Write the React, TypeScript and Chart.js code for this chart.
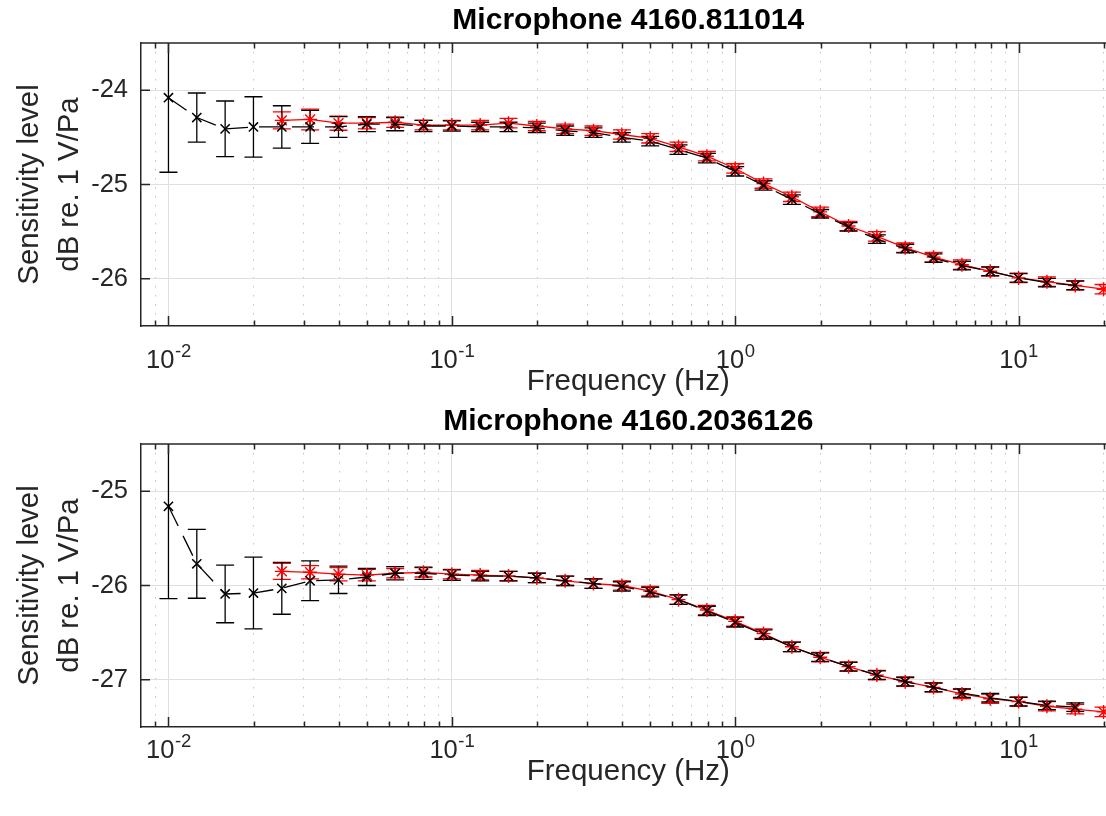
import React, { useEffect, useRef } from 'react';
import { Chart, registerables } from 'chart.js';

Chart.register(...registerables);

// ---------------- data ----------------
const FREQ_BLACK = [
  0.01, 0.01259, 0.01585, 0.01995, 0.02512, 0.03162, 0.03981, 0.05012, 0.0631, 0.07943,
  0.1, 0.1259, 0.1585, 0.1995, 0.2512, 0.3162, 0.3981, 0.5012, 0.631, 0.7943,
  1, 1.259, 1.585, 1.995, 2.512, 3.162, 3.981, 5.012, 6.31, 7.943,
  10, 12.59, 15.85,
];
const FREQ_RED = [
  0.02512, 0.03162, 0.03981, 0.05012, 0.0631, 0.07943,
  0.1, 0.1259, 0.1585, 0.1995, 0.2512, 0.3162, 0.3981, 0.5012, 0.631, 0.7943,
  1, 1.259, 1.585, 1.995, 2.512, 3.162, 3.981, 5.012, 6.31, 7.943,
  10, 12.59, 15.85, 19.95,
];

// Microphone 4160.811014
const TOP_BLACK = [
  -24.08, -24.29, -24.41, -24.39, -24.39, -24.39, -24.39, -24.36, -24.36, -24.38,
  -24.38, -24.39, -24.39, -24.40, -24.43, -24.45, -24.50, -24.54, -24.63, -24.72,
  -24.86, -25.01, -25.16, -25.31, -25.45, -25.58, -25.68, -25.78, -25.86, -25.92,
  -25.99, -26.04, -26.07,
];
const TOP_BLACK_ERR = [
  0.79, 0.26, 0.295, 0.32, 0.225, 0.175, 0.11, 0.08, 0.07, 0.06,
  0.055, 0.05, 0.05, 0.05, 0.05, 0.05, 0.05, 0.05, 0.05, 0.05,
  0.05, 0.05, 0.05, 0.045, 0.045, 0.045, 0.045, 0.045, 0.045, 0.045,
  0.045, 0.045, 0.045,
];
const TOP_RED = [
  -24.32, -24.31, -24.35, -24.35, -24.34, -24.37,
  -24.37, -24.37, -24.35, -24.38, -24.41, -24.43, -24.47, -24.51, -24.60, -24.70,
  -24.83, -24.99, -25.13, -25.29, -25.44, -25.55, -25.67, -25.77, -25.85, -25.92,
  -25.99, -26.03, -26.07, -26.11,
];
const TOP_RED_ERR = [
  0.09, 0.11, 0.075, 0.06, 0.055, 0.05,
  0.05, 0.05, 0.05, 0.05, 0.05, 0.05, 0.05, 0.05, 0.05, 0.05,
  0.05, 0.05, 0.05, 0.05, 0.05, 0.05, 0.05, 0.05, 0.05, 0.05,
  0.05, 0.05, 0.05, 0.05,
];

// Microphone 4160.2036126
const BOT_BLACK = [
  -25.16, -25.77, -26.09, -26.08, -26.03, -25.95, -25.94, -25.91, -25.87, -25.87,
  -25.89, -25.90, -25.90, -25.92, -25.95, -25.98, -26.01, -26.07, -26.15, -26.27,
  -26.39, -26.52, -26.65, -26.76, -26.86, -26.95, -27.02, -27.08, -27.14, -27.19,
  -27.23, -27.27, -27.29,
];
const BOT_BLACK_ERR = [
  0.98, 0.365, 0.305, 0.38, 0.275, 0.21, 0.145, 0.09, 0.07, 0.065,
  0.055, 0.05, 0.05, 0.05, 0.05, 0.05, 0.05, 0.05, 0.05, 0.05,
  0.05, 0.05, 0.05, 0.045, 0.045, 0.045, 0.045, 0.045, 0.045, 0.045,
  0.045, 0.045, 0.045,
];
const BOT_RED = [
  -25.85, -25.86, -25.88, -25.89, -25.87, -25.86,
  -25.88, -25.89, -25.90, -25.92, -25.95, -25.98, -26.00, -26.06, -26.15, -26.26,
  -26.38, -26.51, -26.65, -26.76, -26.86, -26.95, -27.02, -27.08, -27.15, -27.20,
  -27.23, -27.28, -27.31, -27.34,
];
const BOT_RED_ERR = [
  0.085, 0.07, 0.07, 0.06, 0.05, 0.05,
  0.05, 0.05, 0.05, 0.05, 0.05, 0.05, 0.05, 0.05, 0.05, 0.05,
  0.05, 0.05, 0.05, 0.05, 0.05, 0.05, 0.05, 0.05, 0.05, 0.05,
  0.05, 0.05, 0.05, 0.05,
];

const TITLES = ['Microphone 4160.811014', 'Microphone 4160.2036126'];
const X_LABEL = 'Frequency (Hz)';
const Y_LABEL = ['Sensitivity level', 'dB re. 1 V/Pa'];
const X_MIN = 0.008;
const X_MAX = 22;
const X_MAJOR_TICKS = [0.01, 0.1, 1, 10];
const X_TICK_BASE = ['10', '10', '10', '10'];
const X_TICK_EXP = ['-2', '-1', '0', '1'];
const X_MINOR_TICKS = [
  0.009,
  0.02, 0.03, 0.04, 0.05, 0.06, 0.07, 0.08, 0.09,
  0.2, 0.3, 0.4, 0.5, 0.6, 0.7, 0.8, 0.9,
  2, 3, 4, 5, 6, 7, 8, 9, 20,
];
const TOP_Y_TICKS = [-26, -25, -24];
const TOP_Y_RANGE = [-26.5, -23.5];
const BOT_Y_TICKS = [-27, -26, -25];
const BOT_Y_RANGE = [-27.5, -24.5];

// ---------------- styling ----------------
const FONT = '"Liberation Sans", Arial, Helvetica, sans-serif';
const AXIS_COLOR = '#262626';
const CANVAS_W = 1124;
const CANVAS_H = 402;
const PLOT_BOTTOM = 326;

const errorBarPlugin = {
  id: 'errorBars',
  beforeDatasetsDraw(chart: any) {
    const { ctx, chartArea: a, scales } = chart;
    const xs = scales.x;
    const ys = scales.y;
    ctx.save();
    ctx.beginPath();
    ctx.rect(a.left, a.top, a.right - a.left, a.bottom - a.top);
    ctx.clip();
    const sets = chart.data.datasets.slice().reverse();
    for (const ds of sets) {
      const errs = ds.errors as number[];
      if (!errs) continue;
      ctx.strokeStyle = ds.borderColor;
      ctx.lineWidth = 1.3;
      ctx.setLineDash([]);
      ds.data.forEach((p: any, i: number) => {
        const e = errs[i];
        const px = xs.getPixelForValue(p.x);
        const y1 = ys.getPixelForValue(p.y + e);
        const y2 = ys.getPixelForValue(p.y - e);
        ctx.beginPath();
        ctx.moveTo(px, y1);
        ctx.lineTo(px, y2);
        ctx.moveTo(px - 9, y1);
        ctx.lineTo(px + 9, y1);
        ctx.moveTo(px - 9, y2);
        ctx.lineTo(px + 9, y2);
        ctx.stroke();
      });
    }
    ctx.restore();
  },
};

const axesPlugin = {
  id: 'matlabAxes',
  afterDraw(chart: any, _args: any, opts: any) {
    const { ctx, chartArea: a, scales } = chart;
    const xs = scales.x;
    const ys = scales.y;
    const lift = (opts && opts.labelLift) || 0;
    ctx.save();
    ctx.strokeStyle = AXIS_COLOR;
    ctx.lineWidth = 1.5;
    ctx.setLineDash([]);
    ctx.beginPath();
    ctx.moveTo(a.left, a.top);
    ctx.lineTo(a.right, a.top);
    for (const t of xs.ticks) {
      const px = Math.round(xs.getPixelForValue(t.value)) + 0.5;
      const len = t.major ? 10 : 5.5;
      ctx.moveTo(px, a.bottom);
      ctx.lineTo(px, a.bottom - len);
      ctx.moveTo(px, a.top);
      ctx.lineTo(px, a.top + len);
    }
    for (const t of ys.ticks) {
      const py = ys.getPixelForValue(t.value);
      ctx.moveTo(a.left, py);
      ctx.lineTo(a.left + 9, py);
    }
    ctx.stroke();

    // x tick labels with superscript exponents
    ctx.fillStyle = AXIS_COLOR;
    ctx.textBaseline = 'alphabetic';
    ctx.textAlign = 'left';
    X_MAJOR_TICKS.forEach((v, i) => {
      const px = xs.getPixelForValue(v);
      ctx.font = `25.5px ${FONT}`;
      const w1 = ctx.measureText(X_TICK_BASE[i]).width;
      ctx.font = `18.5px ${FONT}`;
      const w2 = ctx.measureText(X_TICK_EXP[i]).width;
      const x0 = px - (w1 + w2) / 2;
      ctx.font = `25.5px ${FONT}`;
      ctx.fillText(X_TICK_BASE[i], x0, a.bottom + 42 - lift);
      ctx.font = `18.5px ${FONT}`;
      ctx.fillText(X_TICK_EXP[i], x0 + w1 + 0.5, a.bottom + 31 - lift);
    });
    ctx.restore();
  },
};

function buildChart(
  canvas: HTMLCanvasElement,
  title: string,
  black: number[],
  blackErr: number[],
  red: number[],
  redErr: number[],
  yTicks: number[],
  yRange: number[],
  labelLift: number,
) {
  const blackData = FREQ_BLACK.map((f, i) => ({ x: f, y: black[i] }));
  const redData = FREQ_RED.map((f, i) => ({ x: f, y: red[i] }));
  return new Chart(canvas, {
    type: 'line',
    data: {
      datasets: [
        {
          label: 'black',
          data: blackData,
          errors: blackErr,
          borderColor: '#000000',
          borderWidth: 1.3,
          borderDash: [22, 11],
          pointStyle: 'crossRot',
          pointRadius: 6.5,
          pointBorderColor: '#000000',
          pointBorderWidth: 1.5,
          pointBackgroundColor: 'rgba(0,0,0,0)',
          tension: 0,
          fill: false,
        } as any,
        {
          label: 'red',
          data: redData,
          errors: redErr,
          borderColor: '#ff0000',
          borderWidth: 1.3,
          pointStyle: 'star',
          pointRadius: 7,
          pointBorderColor: '#ff0000',
          pointBorderWidth: 1.4,
          pointBackgroundColor: 'rgba(0,0,0,0)',
          tension: 0,
          fill: false,
        } as any,
      ],
    },
    options: {
      responsive: false,
      animation: false,
      events: [],
      layout: { padding: 0 },
      plugins: {
        legend: { display: false },
        tooltip: { enabled: false },
        matlabAxes: { labelLift },
        title: {
          display: true,
          text: title,
          fullSize: false,
          color: '#000000',
          font: { family: FONT, size: 30, weight: 'bold', lineHeight: 1.2 },
          padding: { top: 2.5, bottom: 4.5 },
        },
      },
      scales: {
        x: {
          type: 'logarithmic',
          position: 'bottom',
          min: X_MIN,
          max: X_MAX,
          afterBuildTicks: (s: any) => {
            const all = [...X_MINOR_TICKS, ...X_MAJOR_TICKS].sort((p, q) => p - q);
            s.ticks = all.map((v) => ({ value: v, major: X_MAJOR_TICKS.includes(v) }));
          },
          afterFit: (s: any) => {
            s.height = CANVAS_H - PLOT_BOTTOM;
          },
          ticks: { display: false },
          grid: {
            drawTicks: false,
            lineWidth: 1,
            color: (c: any) => (c.tick && c.tick.major ? '#dfdfdf' : '#c4c4c4'),
          },
          border: {
            color: AXIS_COLOR,
            width: 1.5,
            dash: (c: any) => (c.tick && !c.tick.major ? [1.5, 7.5] : []),
          },
          title: {
            display: true,
            text: X_LABEL,
            color: AXIS_COLOR,
            font: { family: FONT, size: 29.5, lineHeight: 1.2 },
            padding: { top: 0, bottom: 2.3 + labelLift },
          },
        } as any,
        y: {
          type: 'linear',
          min: yRange[0],
          max: yRange[1],
          afterBuildTicks: (s: any) => {
            s.ticks = yTicks.map((v) => ({ value: v }));
          },
          afterFit: (s: any) => {
            s.width = 141;
          },
          ticks: {
            color: AXIS_COLOR,
            font: { family: FONT, size: 25.5 },
            padding: 13,
            callback: (v: any) => String(v),
          },
          grid: { drawTicks: false, lineWidth: 1, color: '#dfdfdf' },
          border: { color: AXIS_COLOR, width: 1.5 },
          title: {
            display: true,
            text: Y_LABEL,
            color: AXIS_COLOR,
            font: { family: FONT, size: 29.3, lineHeight: 1.34 },
            padding: { top: 10.6, bottom: 0 },
          },
        } as any,
      },
    } as any,
    plugins: [errorBarPlugin, axesPlugin],
  });
}

export default function App() {
  const topRef = useRef<HTMLCanvasElement>(null);
  const botRef = useRef<HTMLCanvasElement>(null);

  useEffect(() => {
    const c1 = buildChart(topRef.current!, TITLES[0], TOP_BLACK, TOP_BLACK_ERR, TOP_RED, TOP_RED_ERR, TOP_Y_TICKS, TOP_Y_RANGE, 0);
    const c2 = buildChart(botRef.current!, TITLES[1], BOT_BLACK, BOT_BLACK_ERR, BOT_RED, BOT_RED_ERR, BOT_Y_TICKS, BOT_Y_RANGE, 11);
    return () => {
      c1.destroy();
      c2.destroy();
    };
  }, []);

  const canvasStyle: React.CSSProperties = { position: 'absolute', left: 0, width: CANVAS_W, height: CANVAS_H };
  return (
    <div style={{ position: 'absolute', left: 0, top: 0, width: 1106, height: 816, overflow: 'hidden', background: '#ffffff' }}>
      <canvas ref={topRef} width={CANVAS_W} height={CANVAS_H} style={{ ...canvasStyle, top: 0 }} />
      <canvas ref={botRef} width={CANVAS_W} height={CANVAS_H} style={{ ...canvasStyle, top: 401 }} />
    </div>
  );
}
